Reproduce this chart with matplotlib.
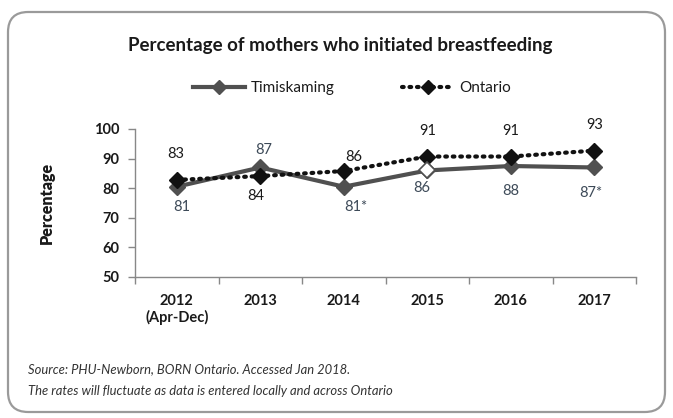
import matplotlib
matplotlib.use("Agg")
import matplotlib.pyplot as plt
from matplotlib.patches import FancyBboxPatch
from matplotlib.lines import Line2D

categories = ["2012\n(Apr-Dec)", "2013", "2014", "2015", "2016", "2017"]
timiskaming = [80.5, 87.0, 80.5, 86.0, 87.5, 87.0]
timiskaming_labels = ["81", "87", "81*", "86", "88", "87*"]
ontario = [82.8, 84.1, 85.8, 90.7, 90.7, 92.7]
ontario_labels = ["83", "84", "86", "91", "91", "93"]
yticks = [50, 60, 70, 80, 90, 100]

plt.rcParams['font.family'] = ['Lato', 'DejaVu Sans']

W, H = 673, 418
fig = plt.figure(figsize=(W / 100, H / 100), dpi=100)
fig.patch.set_facecolor('white')

# rounded border
border = FancyBboxPatch((8 / W, 6 / H), 657 / W, 400 / H,
                        boxstyle="round,pad=0,rounding_size=0.03",
                        transform=fig.transFigure, facecolor='none',
                        edgecolor='#9a9a9a', linewidth=1.6, mutation_aspect=W / H)
fig.patches.append(border)

ax = fig.add_axes([135 / W, 1 - 277 / H, (636 - 135) / W, (277 - 129) / H])
x = list(range(len(categories)))

tim_color = '#505050'
ax.plot(x, timiskaming, color=tim_color, linewidth=3, marker='D', markersize=8,
        markerfacecolor=tim_color, markeredgecolor=tim_color, zorder=3)
# hollow marker for 2015
ax.plot([x[3]], [timiskaming[3]], linestyle='none', marker='D', markersize=8,
        markerfacecolor='white', markeredgecolor=tim_color, markeredgewidth=1.2, zorder=5)
ax.plot(x, ontario, color='#111111', linewidth=3, linestyle=(0, (0.4, 1.4)),
        dash_capstyle='round', marker='D', markersize=8,
        markerfacecolor='#111111', markeredgecolor='#111111', zorder=4)

tim_off = [(5, -20), (4, 17), (12, -20), (-5, -18), (0, -25), (-3, -26)]
ont_off = [(-1, 26), (-4, -20), (10, 14), (0, 26), (0, 26), (0, 26)]
for i in x:
    ax.annotate(timiskaming_labels[i], (x[i], timiskaming[i]), xytext=tim_off[i],
                textcoords='offset pixels', ha='center', va='center',
                fontsize=10.5, color='#3d4a58', zorder=6)
    ax.annotate(ontario_labels[i], (x[i], ontario[i]), xytext=ont_off[i],
                textcoords='offset pixels', ha='center', va='center',
                fontsize=10.5, color='#1a1a1a', zorder=6)

ax.set_xlim(-0.5, len(categories) - 0.5)
ax.set_ylim(50, 100)
ax.set_yticks(yticks)
ax.set_yticklabels([str(v) for v in yticks], fontsize=10.5, fontweight='bold', color='#1a1a1a')
ax.set_xticks(x)
ax.set_xticklabels(categories, fontsize=10.5, fontweight='bold', color='#1a1a1a')
ax.set_xticks([i - 0.5 for i in range(len(categories) + 1)], minor=True)
ax.tick_params(axis='x', which='major', length=0, pad=12)
ax.tick_params(axis='x', which='minor', length=5, color='#888888', width=1)
ax.tick_params(axis='y', length=5, color='#888888', width=1, pad=6)
for s in ['top', 'right']:
    ax.spines[s].set_visible(False)
for s in ['left', 'bottom']:
    ax.spines[s].set_color('#888888')
    ax.spines[s].set_linewidth(1)
ax.set_ylabel('Percentage', fontsize=11.5, fontweight='heavy', color='#1a1a1a', labelpad=28)

fig.text(340 / W, 1 - 45 / H, 'Percentage of mothers who initiated breastfeeding',
         ha='center', va='center', fontsize=13.5, fontweight='bold', color='#1a1a1a')

handles = [Line2D([0], [0], color=tim_color, linewidth=3, marker='D', markersize=7,
                  markerfacecolor=tim_color, markeredgecolor=tim_color),
           Line2D([0], [0], color='#111111', linewidth=3, linestyle=(0, (0.4, 1.4)),
                  dash_capstyle='round', marker='D', markersize=7,
                  markerfacecolor='#111111', markeredgecolor='#111111')]
leg = fig.legend(handles, ['Timiskaming', 'Ontario'], loc='center',
                 bbox_to_anchor=(352 / W, 1 - 88 / H), ncol=2, frameon=False,
                 fontsize=11, handlelength=3.4, columnspacing=4.4, handletextpad=0.35)
for t in leg.get_texts():
    t.set_color('#1a1a1a')

fig.text(28 / W, 1 - 369 / H, 'Source: PHU-Newborn, BORN Ontario. Accessed Jan 2018.',
         ha='left', va='center', fontsize=9.4, style='italic', color='#333333')
fig.text(28 / W, 1 - 391 / H,
         'The rates will fluctuate as data is entered locally and across Ontario',
         ha='left', va='center', fontsize=9.4, style='italic', color='#333333')

fig.savefig('out.png', dpi=100)
